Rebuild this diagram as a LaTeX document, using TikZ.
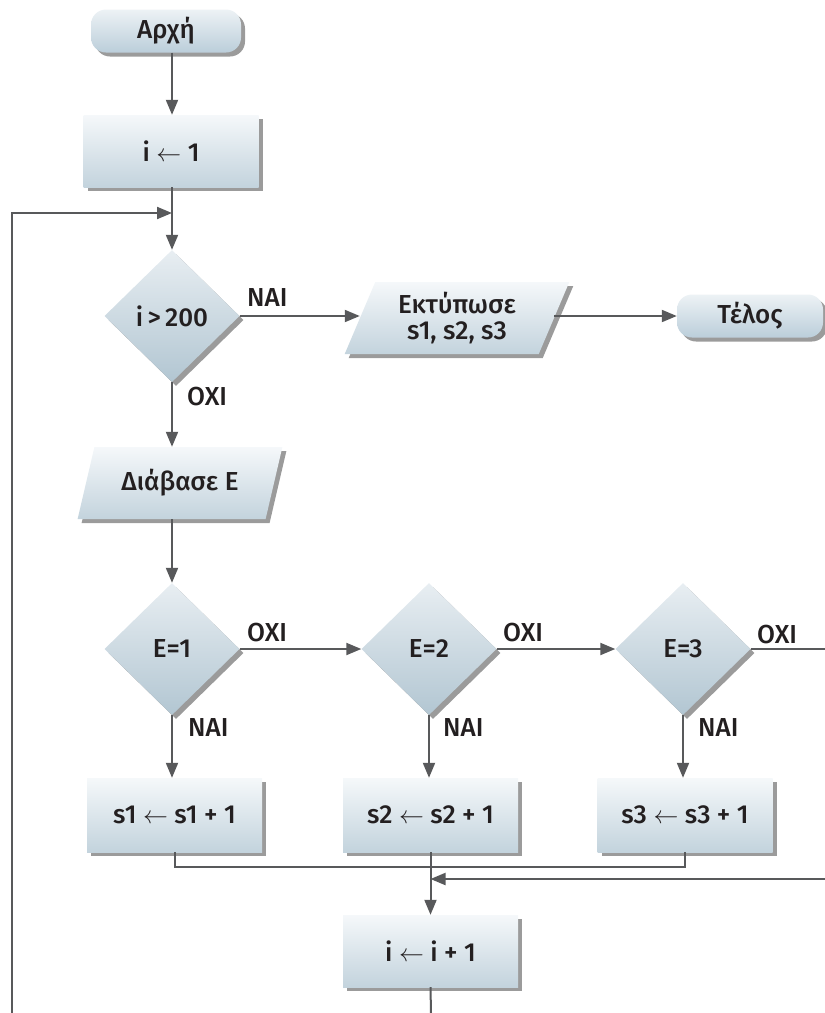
\documentclass[tikz,border=0pt]{standalone}
\usepackage{fontspec}
\setmainfont{Fira Sans Medium}
\usetikzlibrary{shapes.geometric,shadows,arrows.meta,calc}
\definecolor{lc}{HTML}{58595B}
\definecolor{txt}{HTML}{231F20}
\definecolor{bxT}{HTML}{F5F8FA}
\definecolor{bxB}{HTML}{C3D3DD}
\definecolor{dmT}{HTML}{E8EEF2}
\definecolor{dmB}{HTML}{B2C6D2}
\definecolor{tmT}{HTML}{EDF2F5}
\definecolor{tmB}{HTML}{BBCEDA}
\newcommand{\fs}{\fontsize{26}{30}\selectfont}
\tikzset{
  base/.style={text=txt, font=\fs, inner sep=0pt,
    drop shadow={shadow xshift=4pt, shadow yshift=-4pt, fill=black!65, opacity=0.6}},
  proc/.style={base, rectangle, minimum width=175pt, minimum height=72pt, top color=bxT, bottom color=bxB},
  term/.style={base, rectangle, rounded corners=15pt, minimum height=43pt, top color=tmT, bottom color=tmB},
  dec/.style={base, diamond, minimum width=135pt, minimum height=132pt, top color=dmT, bottom color=dmB},
  io/.style={base, trapezium, trapezium left angle=67, trapezium right angle=113,
    trapezium stretches=true, minimum height=72pt, align=center, top color=bxT, bottom color=bxB},
  conn/.style={draw=lc, line width=2pt},
  arr/.style={conn, -{Triangle[length=15pt,width=12pt]}},
  lbl/.style={font=\fs, text=txt, inner sep=0pt, anchor=west}
}
\begin{document}
\begin{tikzpicture}[x=1pt,y=-1pt]
\useasboundingbox (0,0) rectangle (825,1013);
% nodes
\node[term, minimum width=150pt] (start) at (166,31) {Αρχή};
\node[proc] (r1) at (171,151) {i $\leftarrow$ 1};
\node[dec] (d1) at (172,316) {i\,>\,200};
\node[io, minimum width=225pt] (p1) at (457,318) {Εκτύπωσε\\[-4pt]s1, s2, s3};
\node[term, minimum width=146pt] (end) at (750,316) {Τέλος};
\node[io, minimum width=205pt] (p2) at (180,483) {Διάβασε E};
\node[dec] (d2) at (172,649) {E=1};
\node[dec] (d3) at (429,649) {E=2};
\node[dec] (d4) at (683,649) {E=3};
\node[proc, minimum height=74pt] (s1) at (174.5,815) {s1 $\leftarrow$ s1 + 1};
\node[proc, minimum height=74pt] (s2) at (430.5,815) {s2 $\leftarrow$ s2 + 1};
\node[proc, minimum height=74pt] (s3) at (685,815) {s3 $\leftarrow$ s3 + 1};
\node[proc] (r2) at (430.5,951) {i $\leftarrow$ i + 1};
% coordinates
\coordinate (j1) at (172,213);
\coordinate (lb) at (12,1013);
\coordinate (m) at (431,867);
\coordinate (rin) at (825,879);
\coordinate (rout) at (825,649);
\coordinate (bot) at (431,1013);
% connectors
\draw[arr] (start.south -| j1) -- (j1 |- r1.north);
\draw[arr] (j1 |- r1.south) -- (d1.north);
\draw[arr] (lb) |- (j1);
\draw[arr] (d1.east) -- (d1.east -| p1.west);
\draw[arr] (p1.east |- end.west) -- (end.west);
\draw[arr] (d1.south) -- (d1.south |- p2.north);
\draw[arr] (d1.south |- p2.south) -- (d2.north);
\draw[arr] (d2.east) -- (d3.west);
\draw[arr] (d3.east) -- (d4.west);
\draw[conn] (d4.east) -- (rout);
\draw[arr] (d2.south) -- (d2.south |- s1.north);
\draw[arr] (d3.south) -- (d3.south |- s2.north);
\draw[arr] (d4.south) -- (d4.south |- s3.north);
\draw[conn] (s1.south) |- (m) -| (s3.south);
\draw[arr] (s2.south) -- (r2.north);
\draw[arr] (rin) -- (rin -| s2.south);
\draw[conn] (r2.south) -- (bot);
% labels
\node[lbl] (n1) at (247,298) {ΝΑΙ};
\node[lbl] (o1) at (187,397) {ΟΧΙ};
\node[lbl] (o2) at (247,633) {ΟΧΙ};
\node[lbl] (o3) at (503,633) {ΟΧΙ};
\node[lbl] (o4) at (757,635) {ΟΧΙ};
\node[lbl] (n2) at (188,728) {ΝΑΙ};
\node[lbl] (n3) at (443,728) {ΝΑΙ};
\node[lbl] (n4) at (698,728) {ΝΑΙ};
\end{tikzpicture}
\end{document}
